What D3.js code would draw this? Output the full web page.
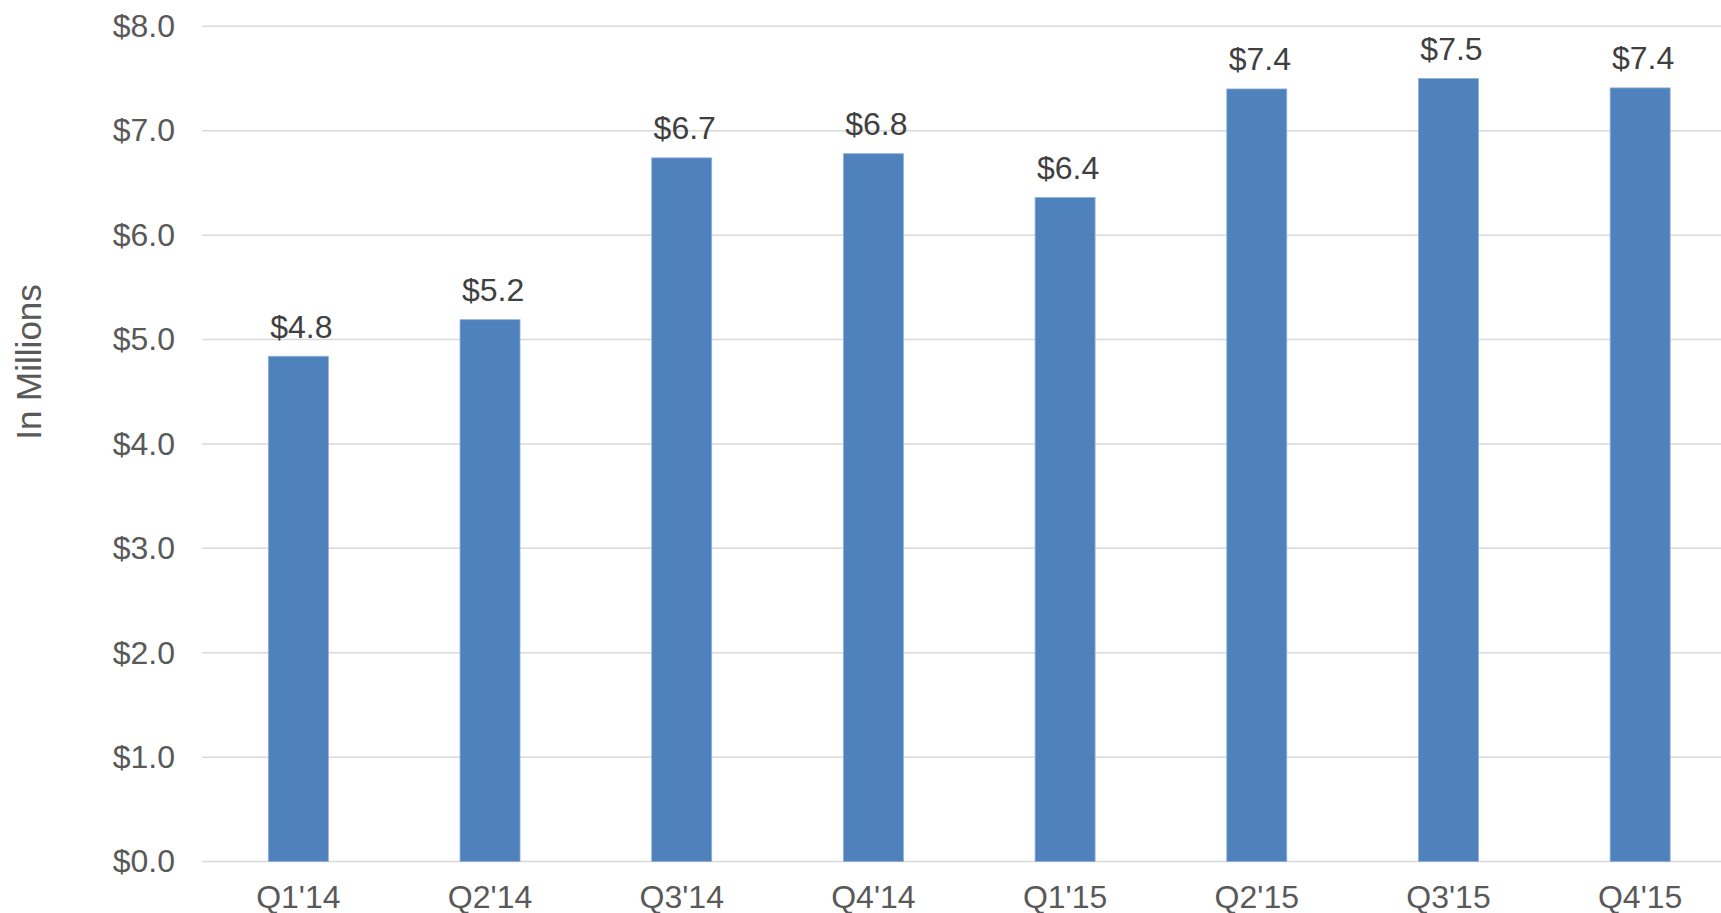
<!DOCTYPE html>
<html>
<head>
<meta charset="utf-8">
<script src="https://cdn.jsdelivr.net/npm/d3@7"></script>
<style>
  html, body { margin: 0; padding: 0; background: #fff; overflow: hidden; }
</style>
</head>
<body>
<script>
const quarters = ["Q1'14", "Q2'14", "Q3'14", "Q4'14", "Q1'15", "Q2'15", "Q3'15", "Q4'15"];
const revenue = [4.84, 5.19, 6.74, 6.78, 6.36, 7.4, 7.5, 7.41];
const yTicks = [0, 1, 2, 3, 4, 5, 6, 7, 8];

const width = 1721;
const height = 913;

const xScale = d3
  .scaleBand()
  .domain(quarters)
  .range([202.5, 1736])
  .paddingInner(0.687)
  .paddingOuter(0.3435);

const yScale = d3.scaleLinear().domain([0, 8]).range([861.6, 26.3]);

const svg = d3
  .select("body")
  .append("svg")
  .attr("width", width)
  .attr("height", height)
  .style("font-family", "'Liberation Sans', Arial, sans-serif");

// gridlines
svg
  .append("g")
  .selectAll("line")
  .data(yTicks)
  .enter()
  .append("line")
  .attr("x1", 202)
  .attr("x2", width)
  .attr("y1", (d) => yScale(d))
  .attr("y2", (d) => yScale(d))
  .attr("stroke", "#d9d9d9")
  .attr("stroke-width", 1.5);

// y axis labels
const yAxis = d3
  .axisLeft(yScale)
  .tickValues(yTicks)
  .tickSize(0)
  .tickPadding(0)
  .tickFormat((d) => `$${d.toFixed(1)}`);

const yAxisGroup = svg
  .append("g")
  .attr("transform", "translate(175 0)")
  .call(yAxis);
yAxisGroup.select(".domain").remove();
yAxisGroup
  .selectAll("text")
  .attr("font-size", "32")
  .attr("font-family", "'Liberation Sans', Arial, sans-serif")
  .attr("fill", "#595959");

// x axis labels
const xAxis = d3.axisBottom(xScale).tickSize(0).tickPadding(0);
const xAxisGroup = svg
  .append("g")
  .attr("transform", "translate(0 861.6)")
  .call(xAxis);
xAxisGroup.select(".domain").remove();
xAxisGroup
  .selectAll("text")
  .attr("font-size", "32")
  .attr("font-family", "'Liberation Sans', Arial, sans-serif")
  .attr("fill", "#595959")
  .attr("dy", null)
  .attr("y", 46.5);

// bars
svg
  .append("g")
  .selectAll("rect")
  .data(revenue)
  .enter()
  .append("rect")
  .attr("x", (d, i) => xScale(quarters[i]))
  .attr("width", xScale.bandwidth())
  .attr("y", (d) => yScale(d))
  .attr("height", (d) => yScale(0) - yScale(d))
  .attr("fill", "#4f81bd")
  .attr("stroke", "#8fb0d8")
  .attr("stroke-width", 0.8);

// data labels
svg
  .append("g")
  .selectAll("text")
  .data(revenue)
  .enter()
  .append("text")
  .attr("x", (d, i) => xScale(quarters[i]) + xScale.bandwidth() / 2 + 3)
  .attr("y", (d) => yScale(d) - 18.5)
  .attr("text-anchor", "middle")
  .attr("font-size", "32")
  .attr("fill", "#404040")
  .text((d) => `$${d.toFixed(1)}`);

// y axis title
svg
  .append("text")
  .attr("transform", "translate(41 362) rotate(-90)")
  .attr("text-anchor", "middle")
  .attr("font-size", "35")
  .attr("fill", "#595959")
  .text("In Millions");
</script>
</body>
</html>
